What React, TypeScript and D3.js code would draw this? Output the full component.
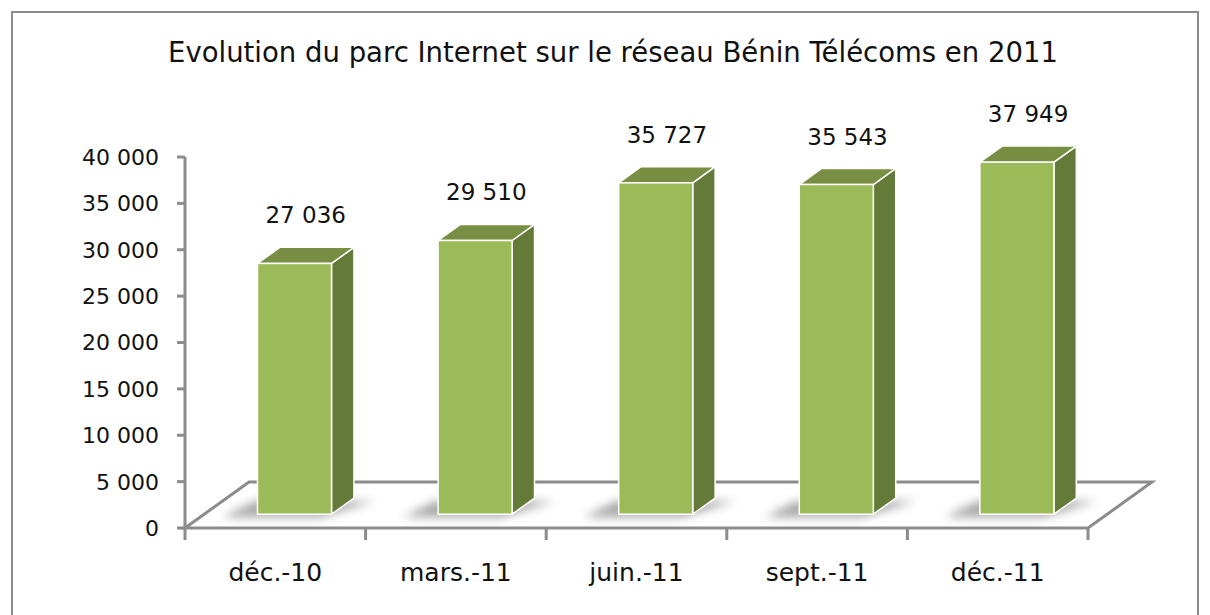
import React from "react";
import * as d3 from "d3";

const categories = ["déc.-10", "mars.-11", "juin.-11", "sept.-11", "déc.-11"];
const parcInternet = [27036, 29510, 35727, 35543, 37949];
const yTicks = [0, 5000, 10000, 15000, 20000, 25000, 30000, 35000, 40000];
const title = "Evolution du parc Internet sur le réseau Bénin Télécoms en 2011";

const W = 1210;
const H = 615;
const FONT = "'DejaVu Sans', sans-serif";

// floor depth (3D offset of back edge)
const depthX = 64;
const depthY = -46;
// position of bar inside floor depth
const barDepthStart = 0.3;
const barDepthSize = 0.35;

const fmt = (v: number) => d3.format(",")(v).replace(/,/g, " ");

export default function App() {
  const x = d3.scaleBand<string>().domain(categories).range([185, 1088]).paddingInner(0).paddingOuter(0);
  const y = d3.scaleLinear().domain([0, 40000]).range([528, 157]);

  const step = x.step();
  const barW = step * 0.41;
  const offX = depthX * barDepthStart;
  const offY = depthY * barDepthStart;
  const sideX = depthX * barDepthSize;
  const sideY = depthY * barDepthSize;
  const [xl, xr] = x.range();

  const axisColor = "#8c8c8c";

  return (
    <div style={{ position: "absolute", left: 0, top: 0 }}>
      <svg width={W} height={H} style={{ display: "block", background: "#fff" }}>
        <defs>
          <filter id="shadowBlur" x="-50%" y="-50%" width="200%" height="200%">
            <feGaussianBlur stdDeviation="5" />
          </filter>
        </defs>
        <rect x={12} y={12} width={1186} height={H} fill="#fff" stroke={axisColor} strokeWidth={2} />
        <text x={613} y={62} textAnchor="middle" fontFamily={FONT} fontSize={27.5} fill="#111">
          {title}
        </text>

        {/* floor */}
        <path
          d={`M${xl},${y(0)} L${xl + depthX},${y(0) + depthY} L${xr + depthX},${y(0) + depthY} L${xr},${y(0)} Z`}
          fill="none"
          stroke={axisColor}
          strokeWidth={3}
        />

        {/* y axis */}
        <line x1={xl} x2={xl} y1={y(40000)} y2={y(0)} stroke={axisColor} strokeWidth={3} />
        {yTicks.map((t) => (
          <g key={t}>
            <line x1={xl - 8} x2={xl} y1={y(t)} y2={y(t)} stroke={axisColor} strokeWidth={3} />
            <text x={159} y={y(t)} dy="0.36em" textAnchor="end" fontFamily={FONT} fontSize={22} fill="#111">
              {fmt(t)}
            </text>
          </g>
        ))}

        {/* x axis ticks */}
        {[...categories.map((c) => x(c) as number), xr].map((px, i) => (
          <line key={i} x1={px} x2={px} y1={y(0)} y2={y(0) + 12} stroke={axisColor} strokeWidth={3} />
        ))}
        {categories.map((c) => (
          <text
            key={c}
            x={(x(c) as number) + step / 2}
            y={581}
            textAnchor="middle"
            fontFamily={FONT}
            fontSize={25}
            fill="#111"
          >
            {c}
          </text>
        ))}

        {/* bars */}
        {categories.map((c, i) => {
          const v = parcInternet[i];
          const x0 = (x(c) as number) + step / 2 - barW / 2 + offX;
          const x1 = x0 + barW;
          const yb = y(0) + offY;
          const yt = y(v) + offY;
          return (
            <g key={c}>
              <path
                d={`M${x0 - 35},${yb + 3} L${x1 - 10},${yb + 3} L${x1 + sideX + 20},${yb + sideY + 3} L${x0 + sideX - 25},${yb + sideY + 3} Z`}
                fill="#555"
                opacity={0.5}
                filter="url(#shadowBlur)"
              />
              <path
                d={`M${x1},${yb} L${x1 + sideX},${yb + sideY} L${x1 + sideX},${yt + sideY} L${x1},${yt} Z`}
                fill="#647a38"
                stroke="#fff"
                strokeWidth={1.5}
                strokeLinejoin="round"
              />
              <path
                d={`M${x0},${yt} L${x1},${yt} L${x1 + sideX},${yt + sideY} L${x0 + sideX},${yt + sideY} Z`}
                fill="#788f43"
                stroke="#fff"
                strokeWidth={1.5}
                strokeLinejoin="round"
              />
              <rect x={x0} y={yt} width={barW} height={yb - yt} fill="#9bbb59" stroke="#fff" strokeWidth={1.5} />
              <text
                x={(x0 + x1 + sideX) / 2}
                y={yt - 40}
                textAnchor="middle"
                fontFamily={FONT}
                fontSize={23}
                fill="#111"
              >
                {fmt(v)}
              </text>
            </g>
          );
        })}
      </svg>
    </div>
  );
}
